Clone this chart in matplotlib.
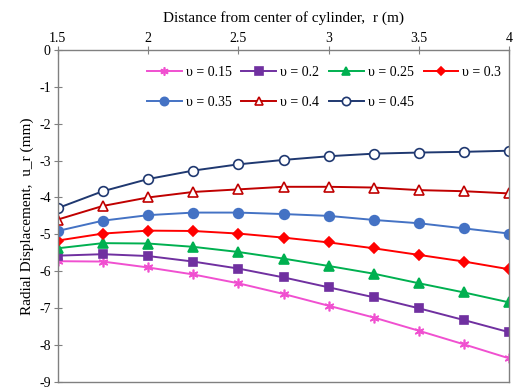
import matplotlib.pyplot as plt
import numpy as np

plt.rcParams.update({
    'font.family': ['Liberation Serif', 'DejaVu Serif'],
    'axes.unicode_minus': False,
    'font.size': 10,
})

r = [1.5, 1.75, 2.0, 2.25, 2.5, 2.75, 3.0, 3.25, 3.5, 3.75, 4.0]

u_015 = [-5.73, -5.74, -5.90, -6.09, -6.33, -6.62, -6.94, -7.26, -7.62, -7.99, -8.37]
u_020 = [-5.58, -5.54, -5.59, -5.74, -5.93, -6.17, -6.44, -6.71, -7.01, -7.33, -7.66]
u_025 = [-5.38, -5.24, -5.25, -5.34, -5.48, -5.66, -5.86, -6.07, -6.33, -6.58, -6.85]
u_030 = [-5.17, -4.98, -4.90, -4.91, -4.98, -5.09, -5.22, -5.38, -5.56, -5.74, -5.95]
u_035 = [-4.91, -4.63, -4.48, -4.41, -4.41, -4.45, -4.50, -4.61, -4.70, -4.84, -4.98]
u_040 = [-4.60, -4.23, -4.00, -3.85, -3.78, -3.71, -3.71, -3.73, -3.80, -3.83, -3.89]
u_045 = [-4.29, -3.83, -3.50, -3.27, -3.10, -2.98, -2.88, -2.81, -2.78, -2.76, -2.73]

labels = ['υ = 0.15', 'υ = 0.2', 'υ = 0.25', 'υ = 0.3', 'υ = 0.35', 'υ = 0.4', 'υ = 0.45']
series = [u_015, u_020, u_025, u_030, u_035, u_040, u_045]
colors = ['#F050D0', '#7030A0', '#00B050', '#FF0000', '#4472C4', '#C00000', '#1F3870']
markers = [(6, 2, 0), 's', '^', 'D', 'o', '^', 'o']
sizes = [7, 6, 6.5, 5, 7, 6.5, 7]
filled = [True, True, True, True, True, False, False]

fig = plt.figure(figsize=(5.15, 3.89), dpi=100)
ax = fig.add_axes([0.112, 0.019, 0.877, 0.852])

handles = []
for y, lab, c, m, s, f in zip(series, labels, colors, markers, sizes, filled):
    h, = ax.plot(r, y, color=c, marker=m, markersize=s, linewidth=1.4,
                 markerfacecolor=c if f else 'white', markeredgecolor=c,
                 markeredgewidth=1.2, label=lab)
    handles.append(h)

ax.set_xlim(1.5, 4)
ax.set_ylim(-9, 0)
ax.set_xticks(np.arange(1.5, 4.01, 0.5))
ax.set_xticklabels(['1.5', '2', '2.5', '3', '3.5', '4'])
ax.set_yticks(np.arange(-9, 0.1, 1))
ax.xaxis.tick_top()
ax.xaxis.set_label_position('top')
ax.tick_params(axis='x', direction='inout', length=6, color='#808080', labelsize=10, pad=1)
ax.tick_params(axis='y', direction='inout', length=6, color='#808080', labelsize=10, pad=2)
for sp in ax.spines.values():
    sp.set_color('#808080')
    sp.set_linewidth(1.0)

ax.set_xlabel('Distance from center of cylinder,  r (m)', fontsize=11, labelpad=7)
ax.set_ylabel('Radial Displacement,  u_r (mm)', fontsize=11, labelpad=4)

order = [0, 4, 1, 5, 2, 6, 3]
ax.legend([handles[i] for i in order], [labels[i] for i in order], ncol=4,
          loc='upper left', bbox_to_anchor=(0.17, 0.99), frameon=False,
          fontsize=10, handlelength=2.5, columnspacing=0.7, handletextpad=0.3,
          labelspacing=1.2, markerscale=0.85)

fig.savefig('out.png', dpi=100)
